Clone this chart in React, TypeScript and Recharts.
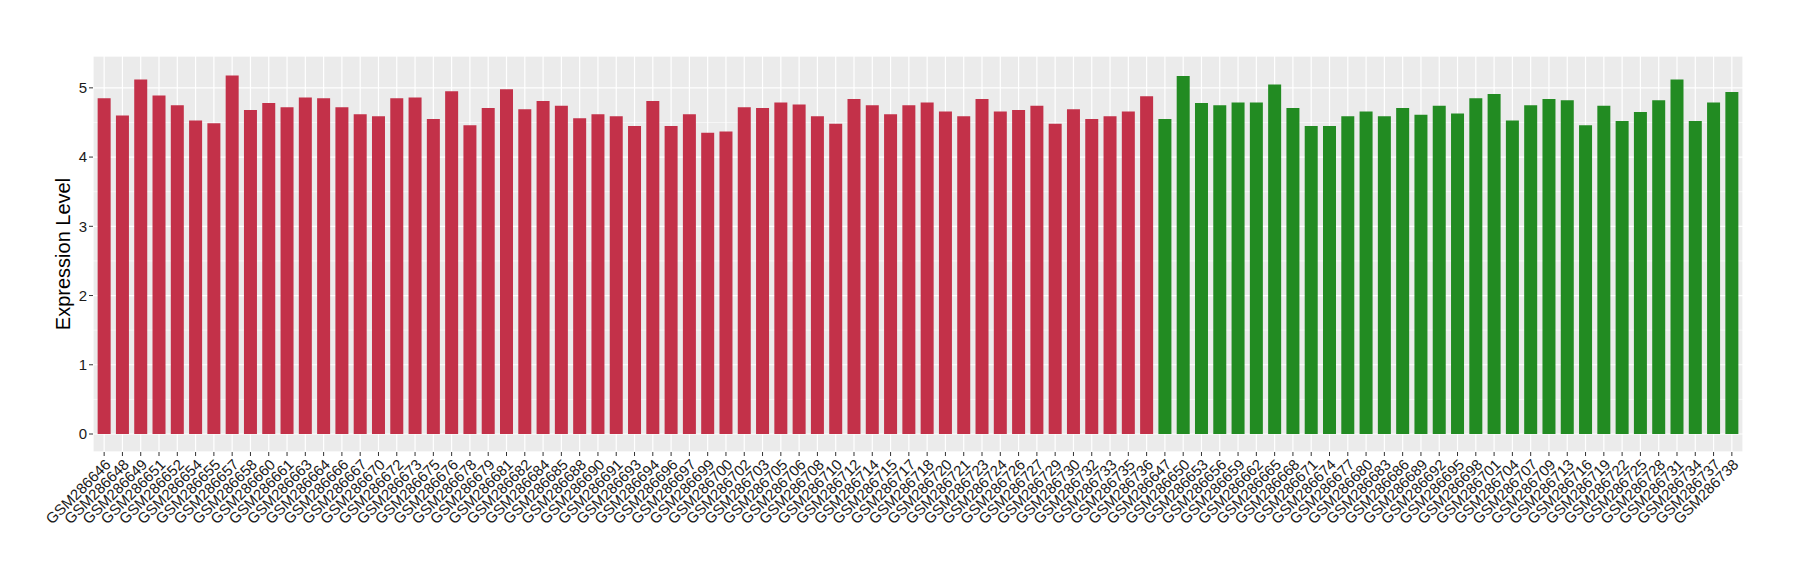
import React from 'react';
import { BarChart, Bar, Cell, XAxis, YAxis, CartesianGrid } from 'recharts';

const groupASamples = [
  'GSM286646', 'GSM286648', 'GSM286649', 'GSM286651', 'GSM286652', 'GSM286654', 'GSM286655', 'GSM286657',
  'GSM286658', 'GSM286660', 'GSM286661', 'GSM286663', 'GSM286664', 'GSM286666', 'GSM286667', 'GSM286670',
  'GSM286672', 'GSM286673', 'GSM286675', 'GSM286676', 'GSM286678', 'GSM286679', 'GSM286681', 'GSM286682',
  'GSM286684', 'GSM286685', 'GSM286688', 'GSM286690', 'GSM286691', 'GSM286693', 'GSM286694', 'GSM286696',
  'GSM286697', 'GSM286699', 'GSM286700', 'GSM286702', 'GSM286703', 'GSM286705', 'GSM286706', 'GSM286708',
  'GSM286710', 'GSM286712', 'GSM286714', 'GSM286715', 'GSM286717', 'GSM286718', 'GSM286720', 'GSM286721',
  'GSM286723', 'GSM286724', 'GSM286726', 'GSM286727', 'GSM286729', 'GSM286730', 'GSM286732', 'GSM286733',
  'GSM286735', 'GSM286736',
];

const groupAValues = [
  4.85, 4.6, 5.12, 4.89, 4.75, 4.53, 4.49, 5.18,
  4.68, 4.78, 4.72, 4.86, 4.85, 4.72, 4.62, 4.59,
  4.85, 4.86, 4.55, 4.95, 4.46, 4.71, 4.98, 4.69,
  4.81, 4.74, 4.56, 4.62, 4.59, 4.45, 4.81, 4.45,
  4.62, 4.35, 4.37, 4.72, 4.71, 4.79, 4.76, 4.59,
  4.48, 4.84, 4.75, 4.62, 4.75, 4.79, 4.66, 4.59,
  4.84, 4.66, 4.68, 4.74, 4.48, 4.69, 4.55, 4.59,
  4.66, 4.88,
];

const groupBSamples = [
  'GSM286647', 'GSM286650', 'GSM286653', 'GSM286656', 'GSM286659', 'GSM286662', 'GSM286665', 'GSM286668',
  'GSM286671', 'GSM286674', 'GSM286677', 'GSM286680', 'GSM286683', 'GSM286686', 'GSM286689', 'GSM286692',
  'GSM286695', 'GSM286698', 'GSM286701', 'GSM286704', 'GSM286707', 'GSM286709', 'GSM286713', 'GSM286716',
  'GSM286719', 'GSM286722', 'GSM286725', 'GSM286728', 'GSM286731', 'GSM286734', 'GSM286737', 'GSM286738',
];

const groupBValues = [
  4.55, 5.17, 4.78, 4.75, 4.79, 4.79, 5.05, 4.71,
  4.45, 4.45, 4.59, 4.66, 4.59, 4.71, 4.61, 4.74,
  4.63, 4.85, 4.91, 4.53, 4.75, 4.84, 4.82, 4.46,
  4.74, 4.52, 4.65, 4.82, 5.12, 4.52, 4.79, 4.94,
];

const majorTicks = [0, 1, 2, 3, 4, 5];
const minorTicks = [0.5, 1.5, 2.5, 3.5, 4.5];
const yDomain = [-0.26, 5.46];

const RED = '#C33149';
const GREEN = '#228B22';
const FONT = '"Liberation Sans", Arial, Helvetica, sans-serif';

const data = [
  ...groupASamples.map((sample, i) => ({ sample, value: groupAValues[i], group: 'A' })),
  ...groupBSamples.map((sample, i) => ({ sample, value: groupBValues[i], group: 'B' })),
];

const YTitle = (props: any) => {
  const { viewBox } = props;
  const cx = viewBox.x + 65;
  const cy = viewBox.y + viewBox.height / 2;
  return (
    <text
      x={cx}
      y={cy}
      transform={`rotate(-90, ${cx}, ${cy})`}
      textAnchor="middle"
      dominantBaseline="middle"
      fontSize={20}
      fontFamily={FONT}
      fill="#000"
    >
      Expression Level
    </text>
  );
};

const App = () => {
  return (
    <div style={{ position: 'absolute', left: 0, top: 0, background: '#fff' }}>
      <BarChart
        width={1800}
        height={580}
        data={data}
        margin={{ top: 56, right: 57, bottom: 5, left: 0 }}
        barCategoryGap="14.5%"
      >
        <CartesianGrid fill="#EBEBEB" stroke="#FFFFFF" strokeWidth={1.2} />
        <CartesianGrid yAxisId="minor" vertical={false} stroke="#FFFFFF" strokeWidth={0.6} />
        <XAxis
          dataKey="sample"
          interval={0}
          angle={-45}
          textAnchor="end"
          height={123}
          axisLine={false}
          tickSize={4}
          tickMargin={2}
          padding={{ left: 2, right: 2 }}
          tickLine={{ stroke: '#333333' }}
          tick={{ fontSize: 15, fontFamily: FONT, fill: '#1a1a1a' }}
        />
        <YAxis
          width={93}
          domain={yDomain}
          ticks={majorTicks}
          allowDataOverflow
          axisLine={false}
          tickSize={4}
          tickMargin={2}
          tickLine={{ stroke: '#333333' }}
          tick={{ fontSize: 15, fontFamily: FONT, fill: '#1a1a1a' }}
          label={<YTitle />}
        />
        <YAxis yAxisId="minor" hide domain={yDomain} ticks={minorTicks} allowDataOverflow />
        <Bar dataKey="value" isAnimationActive={false}>
          {data.map((d, i) => (
            <Cell key={`cell-${i}`} fill={d.group === 'A' ? RED : GREEN} />
          ))}
        </Bar>
      </BarChart>
    </div>
  );
};

export default App;
